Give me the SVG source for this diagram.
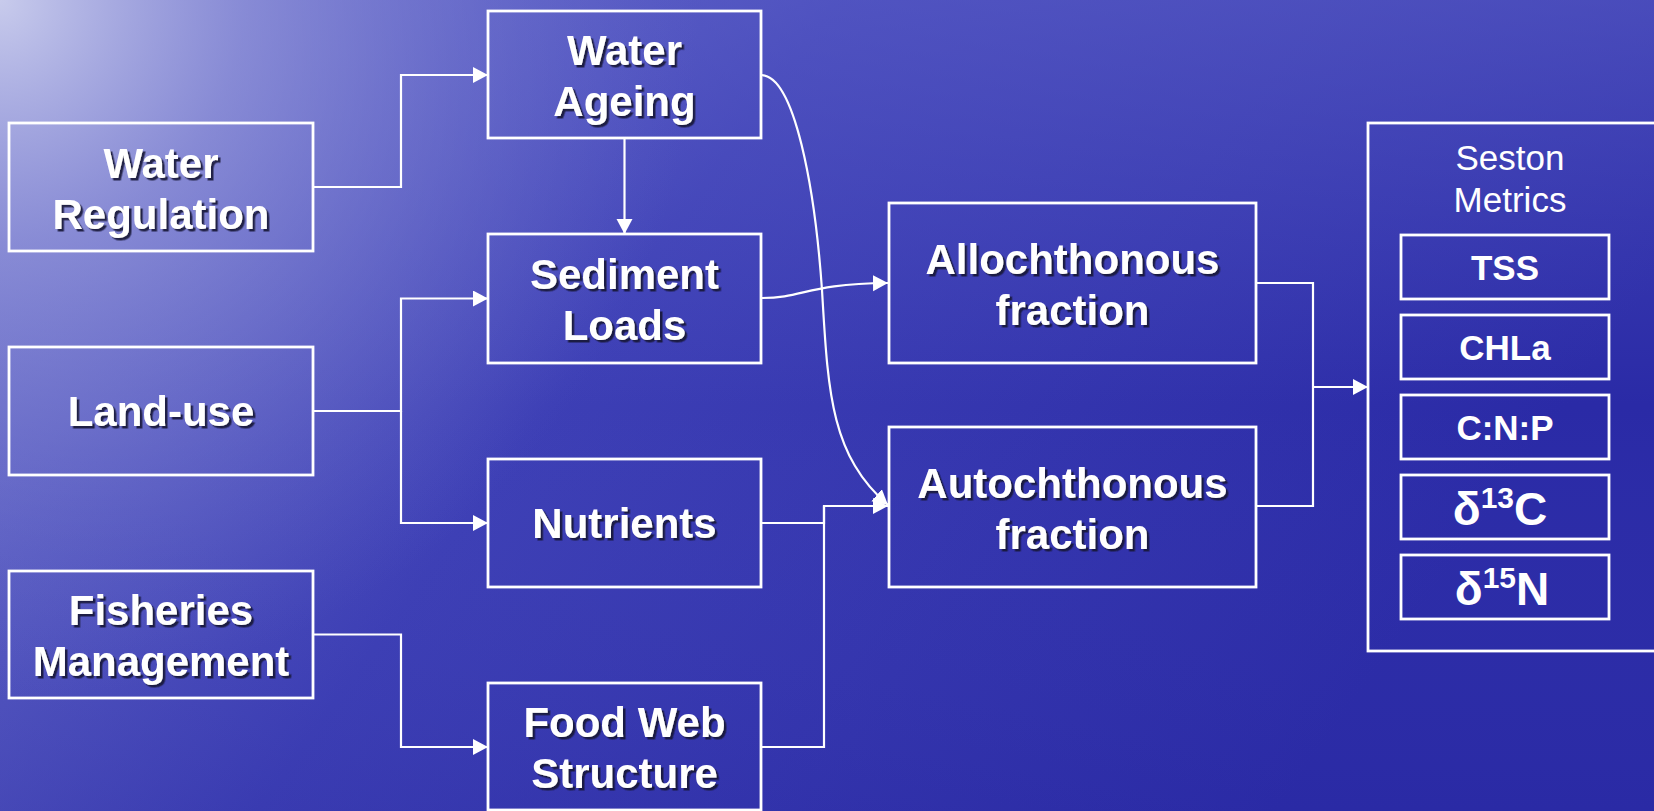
<svg xmlns="http://www.w3.org/2000/svg" width="1654" height="811" viewBox="0 0 1654 811">
<defs>
<linearGradient id="bgH" x1="0" y1="0" x2="1" y2="0.35">
<stop offset="0" stop-color="#7074cc"/>
<stop offset="0.45" stop-color="#3d3fb5"/>
<stop offset="1" stop-color="#2a2aa6"/>
</linearGradient>
<linearGradient id="bgV" x1="0" y1="0" x2="0" y2="1">
<stop offset="0" stop-color="#6064ca" stop-opacity="0.55"/>
<stop offset="0.5" stop-color="#5a5ec8" stop-opacity="0"/>
<stop offset="1" stop-color="#2a2aa0" stop-opacity="0.2"/>
</linearGradient>
<radialGradient id="bgR" cx="0" cy="0" r="700" gradientUnits="userSpaceOnUse">
<stop offset="0" stop-color="#c8cbec" stop-opacity="1"/>
<stop offset="0.35" stop-color="#989bdb" stop-opacity="0.7"/>
<stop offset="1" stop-color="#6a6ecc" stop-opacity="0"/>
</radialGradient>
<filter id="sh" x="-10%" y="-10%" width="120%" height="130%">
<feDropShadow dx="2.5" dy="2.5" stdDeviation="0.6" flood-color="#141438" flood-opacity="0.9"/>
</filter>
<marker id="ah" markerUnits="userSpaceOnUse" markerWidth="17" markerHeight="18" refX="15" refY="8" orient="auto">
<path d="M0,0 L15,8 L0,16 Z" fill="#ffffff"/>
</marker>
</defs>
<style>
.box{fill:none;stroke:#ffffff;stroke-width:2.8}
.t{font-family:"Liberation Sans",Arial,sans-serif;font-weight:bold;font-size:42px;fill:#ffffff;text-anchor:middle;filter:url(#sh)}
.m{font-family:"Liberation Sans",Arial,sans-serif;font-weight:bold;font-size:35px;fill:#ffffff;text-anchor:middle}
.d{font-family:"Liberation Sans",Arial,sans-serif;font-weight:bold;font-size:46px;fill:#ffffff;text-anchor:middle}
.s{font-family:"Liberation Sans",Arial,sans-serif;font-size:35px;fill:#ffffff;text-anchor:middle}
.c{fill:none;stroke:#ffffff;stroke-width:2.2}
</style>
<rect width="1654" height="811" fill="url(#bgH)"/>
<rect width="1654" height="811" fill="url(#bgV)"/>
<rect width="1654" height="811" fill="url(#bgR)"/>

<g id="connectors">
<path class="c" d="M313,187 H401 V75 H488" marker-end="url(#ah)"/>
<path class="c" d="M624.5,138 V234" marker-end="url(#ah)"/>
<path class="c" d="M313,411 H401 V298.5 H488" marker-end="url(#ah)"/>
<path class="c" d="M401,411 V523 H488" marker-end="url(#ah)"/>
<path class="c" d="M313,634.5 H401 V747 H488" marker-end="url(#ah)"/>
<path class="c" d="M761,298 C805,298 805,284 888,283" marker-end="url(#ah)"/>
<path class="c" d="M761,75 C795,75 815,190 822,290 C828,390 830,455 888,505" marker-end="url(#ah)"/>
<path class="c" d="M761,523 H824 V506 H888" marker-end="url(#ah)"/>
<path class="c" d="M761,747 H824 V506"/>
<path class="c" d="M1256,283 H1313 V506 H1256"/>
<path class="c" d="M1313,387 H1368" marker-end="url(#ah)"/>
</g>

<g id="water-regulation">
<rect class="box" x="9" y="123" width="304" height="128"/>
<text class="t" x="161" y="178">Water</text>
<text class="t" x="161" y="229">Regulation</text>
</g>
<g id="land-use">
<rect class="box" x="9" y="347" width="304" height="128"/>
<text class="t" x="161" y="426">Land-use</text>
</g>
<g id="fisheries-management">
<rect class="box" x="9" y="571" width="304" height="127"/>
<text class="t" x="161" y="625">Fisheries</text>
<text class="t" x="161" y="676">Management</text>
</g>
<g id="water-ageing">
<rect class="box" x="488" y="11" width="273" height="127"/>
<text class="t" x="624.5" y="65">Water</text>
<text class="t" x="624.5" y="116">Ageing</text>
</g>
<g id="sediment-loads">
<rect class="box" x="488" y="234" width="273" height="129"/>
<text class="t" x="624.5" y="289">Sediment</text>
<text class="t" x="624.5" y="340">Loads</text>
</g>
<g id="nutrients">
<rect class="box" x="488" y="459" width="273" height="128"/>
<text class="t" x="624.5" y="538">Nutrients</text>
</g>
<g id="food-web-structure">
<rect class="box" x="488" y="683" width="273" height="127"/>
<text class="t" x="624.5" y="737">Food Web</text>
<text class="t" x="624.5" y="788">Structure</text>
</g>
<g id="allochthonous">
<rect class="box" x="889" y="203" width="367" height="160"/>
<text class="t" x="1072.5" y="274">Allochthonous</text>
<text class="t" x="1072.5" y="325">fraction</text>
</g>
<g id="autochthonous">
<rect class="box" x="889" y="427" width="367" height="160"/>
<text class="t" x="1072.5" y="498">Autochthonous</text>
<text class="t" x="1072.5" y="549">fraction</text>
</g>
<g id="seston-metrics">
<rect class="box" x="1368" y="123" width="310" height="528"/>
<text class="s" x="1510" y="170">Seston</text>
<text class="s" x="1510" y="212">Metrics</text>
</g>
<g id="tss">
<rect class="box" x="1401" y="235" width="208" height="64"/>
<text class="m" x="1505" y="280">TSS</text>
</g>
<g id="chla">
<rect class="box" x="1401" y="315" width="208" height="64"/>
<text class="m" x="1505" y="360">CHLa</text>
</g>
<g id="cnp">
<rect class="box" x="1401" y="395" width="208" height="64"/>
<text class="m" x="1505" y="440">C:N:P</text>
</g>
<g id="d13c">
<rect class="box" x="1401" y="475" width="208" height="64"/>
<text class="d" x="1500" y="525">δ<tspan font-size="30" dy="-17">13</tspan><tspan dy="17">C</tspan></text>
</g>
<g id="d15n">
<rect class="box" x="1401" y="555" width="208" height="64"/>
<text class="d" x="1502" y="605">δ<tspan font-size="30" dy="-17">15</tspan><tspan dy="17">N</tspan></text>
</g>
</svg>
